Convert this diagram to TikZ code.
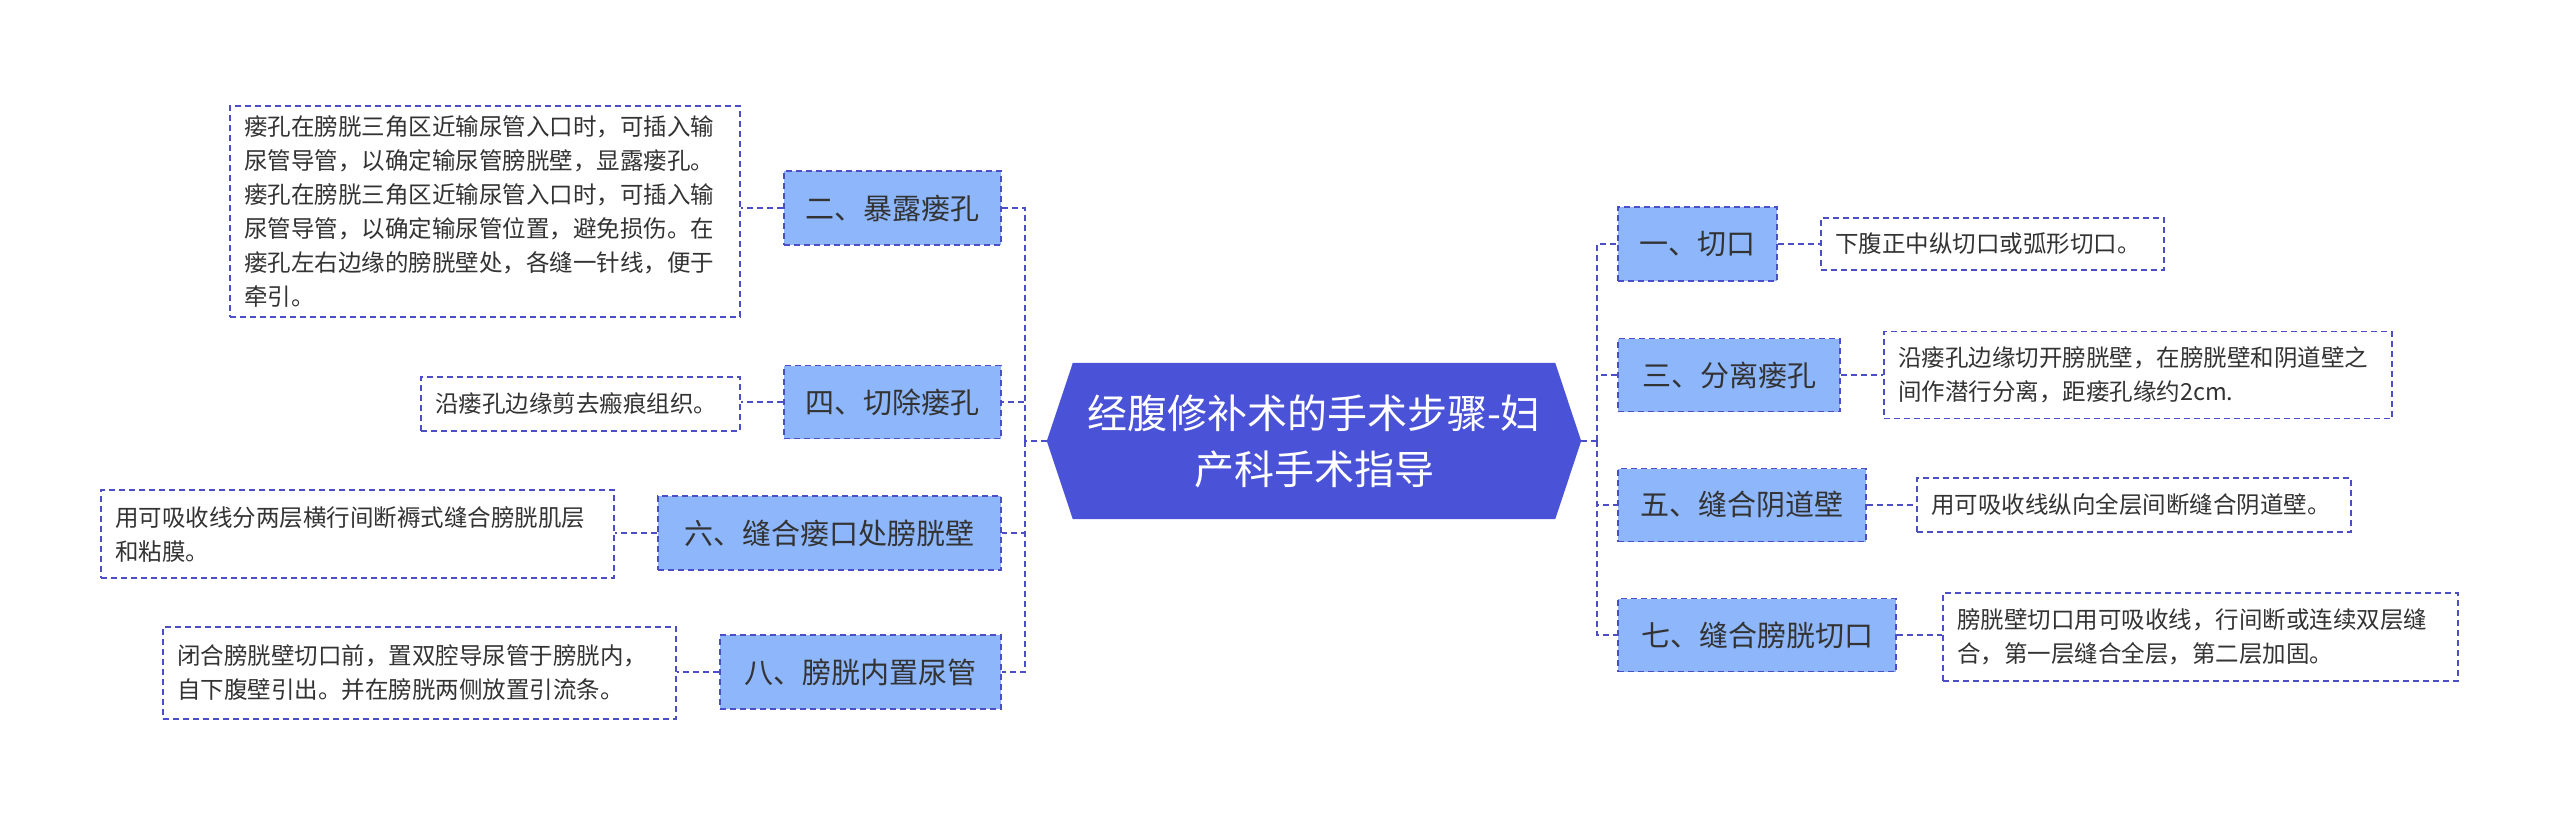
\documentclass[tikz,border=0pt]{standalone}
\usepackage{fontspec}
\setmainfont{Noto Sans CJK SC}
\usetikzlibrary{calc}
\definecolor{lc}{HTML}{4B4EC6}
\definecolor{bf}{HTML}{8DB6FB}
\definecolor{cf}{HTML}{4A52D8}
\definecolor{tx}{HTML}{333333}
\tikzset{
  br/.style={draw=lc,fill=bf,line width=1.8pt,dash pattern=on 6pt off 4pt,inner sep=0pt,font=\fontsize{29}{36}\selectfont,text=tx},
  lf/.style={draw=lc,fill=white,line width=1.8pt,dash pattern=on 6pt off 4pt,inner sep=0pt,align=left,font=\fontsize{23.5}{34}\selectfont,text=tx},
  cn/.style={draw=lc,line width=2pt,dash pattern=on 6pt off 4pt},
}
\newcommand{\bx}[6]{% name, x1,y1,x2,y2, style
}
\begin{document}
\begin{tikzpicture}[x=1pt,y=1pt]
\useasboundingbox (0,0) rectangle (2560,-822);
% center
\node[minimum width=534pt,minimum height=156pt,inner sep=0pt] (c) at (1314,-441) {};
\fill[cf] (c.west) -- ($(c.north west)+(26,0)$) -- ($(c.north east)+(-26,0)$) -- (c.east) -- ($(c.south east)+(-26,0)$) -- ($(c.south west)+(26,0)$) -- cycle;
\node[text=white,align=center,font=\fontsize{40}{56}\selectfont] (ct) at (c) {经腹修补术的手术步骤-妇\\产科手术指导};
% right branches
\node[br,minimum width=159pt,minimum height=74pt] (b1) at (1697.5,-244) {一、切口};
\node[br,minimum width=222pt,minimum height=73pt] (b3) at (1729,-375) {三、分离瘘孔};
\node[br,minimum width=248pt,minimum height=73pt] (b5) at (1742,-505) {五、缝合阴道壁};
\node[br,minimum width=278pt,minimum height=73pt] (b7) at (1757,-635) {七、缝合膀胱切口};
% left branches
\node[br,minimum width=217pt,minimum height=74pt] (b2) at (892.5,-208) {二、暴露瘘孔};
\node[br,minimum width=217pt,minimum height=73pt] (b4) at (892.5,-402) {四、切除瘘孔};
\node[br,minimum width=343pt,minimum height=74pt] (b6) at (829.5,-533) {六、缝合瘘口处膀胱壁};
\node[br,minimum width=281pt,minimum height=74pt] (b8) at (860.5,-672) {八、膀胱内置尿管};
% right leaves
\node[lf,minimum width=343pt,minimum height=52pt,text width=315pt] (l1) at (1992.5,-244) {下腹正中纵切口或弧形切口。};
\node[lf,minimum width=508pt,minimum height=87pt,text width=480pt] (l3) at (2138,-375) {沿瘘孔边缘切开膀胱壁，在膀胱壁和阴道壁之\\间作潜行分离，距瘘孔缘约2cm.};
\node[lf,minimum width=434pt,minimum height=54pt,text width=406pt] (l5) at (2134,-505) {用可吸收线纵向全层间断缝合阴道壁。};
\node[lf,minimum width=515pt,minimum height=88pt,text width=487pt] (l7) at (2200.5,-637) {膀胱壁切口用可吸收线，行间断或连续双层缝\\合，第一层缝合全层，第二层加固。};
% left leaves
\node[lf,minimum width=510pt,minimum height=211pt,text width=482pt] (l2) at (485,-211.5) {瘘孔在膀胱三角区近输尿管入口时，可插入输\\尿管导管，以确定输尿管膀胱壁，显露瘘孔。\\瘘孔在膀胱三角区近输尿管入口时，可插入输\\尿管导管，以确定输尿管位置，避免损伤。在\\瘘孔左右边缘的膀胱壁处，各缝一针线，便于\\牵引。};
\node[lf,minimum width=319pt,minimum height=54pt,text width=291pt] (l4) at (580.5,-404) {沿瘘孔边缘剪去瘢痕组织。};
\node[lf,minimum width=513pt,minimum height=88pt,text width=485pt] (l6) at (357.5,-534) {用可吸收线分两层横行间断褥式缝合膀胱肌层\\和粘膜。};
\node[lf,minimum width=513pt,minimum height=92pt,text width=485pt] (l8) at (419.5,-673) {闭合膀胱壁切口前，置双腔导尿管于膀胱内，\\自下腹壁引出。并在膀胱两侧放置引流条。};
% spines
\coordinate (rs) at (1597,-441);
\coordinate (ls) at (1025,-441);
\draw[cn] (c.east) -- (rs);
\draw[cn] (c.west) -- (ls);
\foreach \b in {b1,b3,b5,b7} \draw[cn] (rs) |- (\b.west);
\foreach \b in {b2,b4,b6,b8} \draw[cn] (ls) |- (\b.east);
\foreach \a/\b in {b1/l1,b3/l3,b5/l5,b7/l7} \draw[cn] (\a.east) -- (\a.east -| \b.west);
\foreach \a/\b in {b2/l2,b4/l4,b6/l6,b8/l8} \draw[cn] (\a.west) -- (\a.west -| \b.east);
\end{tikzpicture}
\end{document}
